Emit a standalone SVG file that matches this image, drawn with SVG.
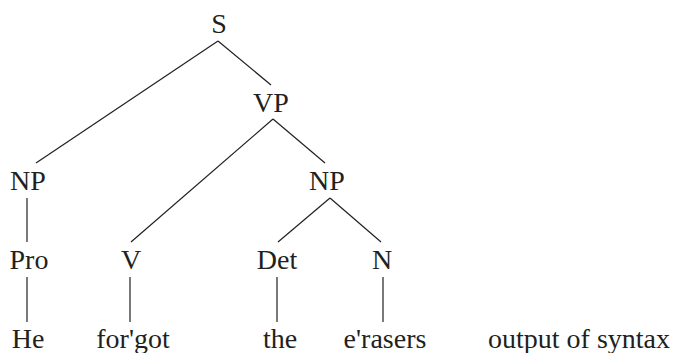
<svg xmlns="http://www.w3.org/2000/svg" width="678" height="353" viewBox="0 0 678 353">
<style>
text{font-family:'Liberation Serif','Times New Roman',serif;font-size:28px;fill:#231f20;text-anchor:middle}
#edges line{stroke:#231f20;stroke-width:1.2;fill:none}
</style>
<rect width="678" height="353" fill="#fff"/>
<g id="edges">
<line x1="218" y1="41" x2="36" y2="163"/>
<line x1="218" y1="41" x2="271" y2="85"/>
<line x1="273" y1="119" x2="131" y2="242"/>
<line x1="273" y1="119" x2="325" y2="163"/>
<line x1="27" y1="198" x2="27" y2="242"/>
<line x1="330" y1="198" x2="278" y2="242"/>
<line x1="330" y1="198" x2="381" y2="242"/>
<line x1="27" y1="277" x2="27" y2="322"/>
<line x1="130" y1="277" x2="130" y2="322"/>
<line x1="277" y1="277" x2="277" y2="322"/>
<line x1="383" y1="277" x2="383" y2="322"/>
</g>
<g id="S"><text x="219" y="33">S</text></g>
<g id="VP"><text x="271" y="112">VP</text></g>
<g id="NP1"><text x="28" y="190">NP</text></g>
<g id="NP2"><text x="327" y="190">NP</text></g>
<g id="Pro"><text x="29" y="269">Pro</text></g>
<g id="V"><text x="131" y="269">V</text></g>
<g id="Det"><text x="277" y="269">Det</text></g>
<g id="N"><text x="382" y="269">N</text></g>
<g id="He"><text x="28" y="348">He</text></g>
<g id="forgot"><text x="133" y="348">for'got</text></g>
<g id="the"><text x="280" y="348">the</text></g>
<g id="erasers"><text x="385" y="348">e'rasers</text></g>
<g id="output"><text x="579" y="348">output of syntax</text></g>
</svg>
